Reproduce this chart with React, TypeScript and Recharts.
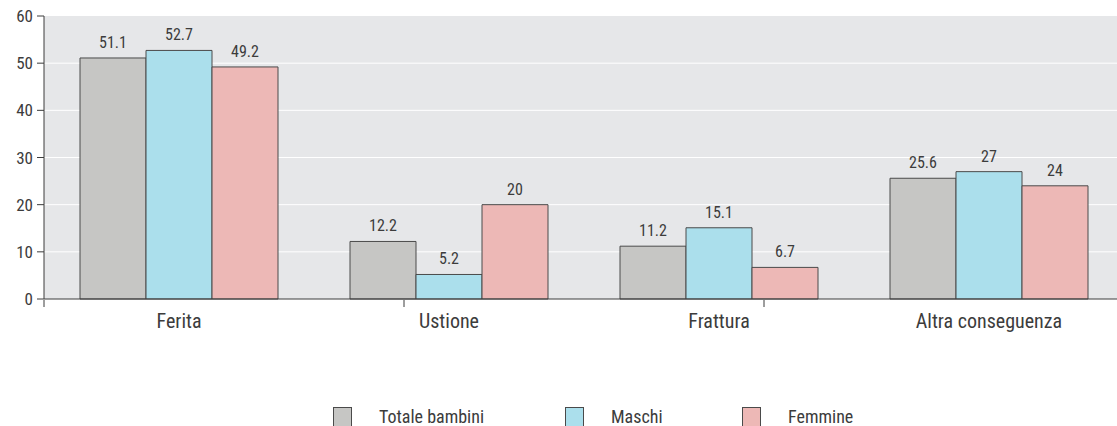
import React from "react";
import {
  Bar,
  BarChart,
  CartesianGrid,
  LabelList,
  Legend,
  XAxis,
  YAxis,
} from "recharts";

const categories = ["Ferita", "Ustione", "Frattura", "Altra conseguenza"];
const totaleBambini = [51.1, 12.2, 11.2, 25.6];
const maschi = [52.7, 5.2, 15.1, 27];
const femmine = [49.2, 20, 6.7, 24];
const yTicks = [0, 10, 20, 30, 40, 50, 60];

const data = categories.map((name, i) => ({
  name,
  totale: totaleBambini[i],
  maschi: maschi[i],
  femmine: femmine[i],
}));

const series = [
  { key: "totale", label: "Totale bambini", fill: "#c6c6c4" },
  { key: "maschi", label: "Maschi", fill: "#abdfec" },
  { key: "femmine", label: "Femmine", fill: "#edb8b6" },
];

const FONT = "'Liberation Sans Narrow', 'Roboto Condensed', Roboto, sans-serif";
const TEXT = "#3c3c3c";
const STROKE = "#4a4a4a";

// legend columns, widths keep the three entries spaced like the print layout
const itemWidths = [232, 177, undefined];

const LegendRow = () => (
  <div style={{ height: 125, position: "relative" }}>
    <div
      style={{
        position: "absolute",
        top: 106,
        left: 332,
        display: "flex",
        alignItems: "flex-start",
      }}
    >
      {series.map((s, i) => (
        <div
          key={s.key}
          style={{ display: "flex", alignItems: "flex-start", width: itemWidths[i] }}
        >
          <span
            style={{
              width: 17,
              height: 19,
              background: s.fill,
              border: `1px solid ${STROKE}`,
              boxSizing: "content-box",
            }}
          />
          <span
            style={{
              marginLeft: 27,
              fontSize: 18,
              lineHeight: "19px",
              color: TEXT,
              fontFamily: FONT,
            }}
          >
            {s.label}
          </span>
        </div>
      ))}
    </div>
  </div>
);

export default function App() {
  return (
    <div
      style={{
        position: "absolute",
        left: 0,
        top: 0,
        width: 1117,
        height: 426,
        overflow: "hidden",
        background: "#ffffff",
        fontFamily: FONT,
      }}
    >
      <BarChart
        width={1130}
        height={426}
        data={data}
        margin={{ top: 16, right: 6, bottom: 0, left: 1 }}
        barGap={0}
        barCategoryGap={36}
      >
        <CartesianGrid
          fill="#e6e7e9"
          stroke="#ffffff"
          strokeWidth={1}
          vertical={false}
          horizontalValues={[10, 20, 30, 40, 50]}
        />
        <YAxis
          width={43}
          domain={[0, 60]}
          ticks={yTicks}
          interval={0}
          tickSize={7}
          tickMargin={4}
          tick={{ fill: TEXT, fontSize: 17 }}
          axisLine={{ stroke: TEXT }}
          tickLine={{ stroke: TEXT }}
        />
        <XAxis
          dataKey="name"
          height={1}
          interval={0}
          tickLine={false}
          tickMargin={9}
          tick={{ fill: TEXT, fontSize: 20 }}
          axisLine={{ stroke: TEXT }}
        />
        {/* tick marks on the category boundaries */}
        <XAxis
          xAxisId="edges"
          type="number"
          domain={[0, 4]}
          allowDataOverflow
          ticks={[0, 1, 2, 3, 4]}
          interval={0}
          height={1}
          axisLine={false}
          tickSize={7}
          tickLine={{ stroke: TEXT }}
          tickFormatter={() => ""}
        />
        <Legend verticalAlign="bottom" content={() => <LegendRow />} />
        {series.map((s) => (
          <Bar
            key={s.key}
            dataKey={s.key}
            name={s.label}
            fill={s.fill}
            stroke={STROKE}
            strokeWidth={1}
            isAnimationActive={false}
          >
            <LabelList
              dataKey={s.key}
              position="top"
              offset={10}
              fill={TEXT}
              fontSize={16}
            />
          </Bar>
        ))}
      </BarChart>
    </div>
  );
}
